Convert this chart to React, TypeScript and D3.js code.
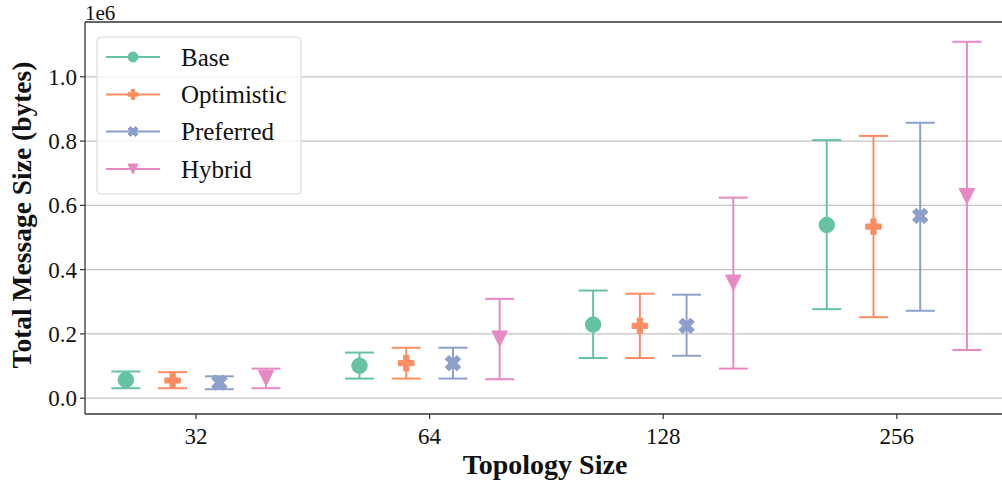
import React from "react";
import * as d3 from "d3";

// Topology sizes on the x axis
const categories = ["32", "64", "128", "256"];
const seriesNames = ["Base", "Optimistic", "Preferred", "Hybrid"];
const seriesColors = ["#66c2a5", "#fc8d62", "#8da0cb", "#e78ac3"];
const seriesMarkers = ["circle", "plus", "x", "tri_down"];

// Mean total message size (bytes) and error-bar extents per topology size
const baseMean = [57000, 101000, 229000, 539000];
const baseLow = [31000, 61000, 125000, 277000];
const baseHigh = [83000, 142000, 335000, 803000];

const optimisticMean = [55000, 109000, 225000, 534000];
const optimisticLow = [31000, 61000, 125000, 252000];
const optimisticHigh = [81000, 157000, 325000, 816000];

const preferredMean = [48500, 109000, 225000, 567000];
const preferredLow = [28000, 61000, 132000, 272000];
const preferredHigh = [68000, 157000, 322000, 857000];

const hybridMean = [62600, 185000, 359000, 628000];
const hybridLow = [31000, 59000, 92000, 150000];
const hybridHigh = [92000, 309000, 624000, 1109000];

const yTicks = [0, 200000, 400000, 600000, 800000, 1000000];

const means = [baseMean, optimisticMean, preferredMean, hybridMean];
const lows = [baseLow, optimisticLow, preferredLow, hybridLow];
const highs = [baseHigh, optimisticHigh, preferredHigh, hybridHigh];

const W = 1002;
const H = 486;
const plot = { left: 85, right: 1005, top: 22, bottom: 414 };
const FONT = "'Liberation Serif', 'Times New Roman', serif";

function markerPath(kind: string, s: number): string {
  const h = s / 2;
  if (kind === "circle") {
    return `M${-h},0A${h},${h} 0 1,0 ${h},0A${h},${h} 0 1,0 ${-h},0Z`;
  }
  if (kind === "plus") {
    const pts = [
      [-1, -3], [-1, -1], [-3, -1], [-3, 1], [-1, 1], [-1, 3],
      [1, 3], [1, 1], [3, 1], [3, -1], [1, -1], [1, -3],
    ].map(([a, b]) => [(a / 6) * s, (b / 6) * s]);
    return "M" + pts.map((p) => p.join(",")).join("L") + "Z";
  }
  if (kind === "x") {
    const pts = [
      [-1, -2], [0, -1], [1, -2], [2, -1], [1, 0], [2, 1],
      [1, 2], [0, 1], [-1, 2], [-2, 1], [-1, 0], [-2, -1],
    ].map(([a, b]) => [(a / 4) * s, (b / 4) * s]);
    return "M" + pts.map((p) => p.join(",")).join("L") + "Z";
  }
  // downward-pointing triangle
  return `M0,${h}L${-h},${-h}L${h},${-h}Z`;
}

export default function App() {
  const x = d3
    .scaleLinear()
    .domain([-0.475, 3.463])
    .range([plot.left, plot.right]);
  const y = d3
    .scaleLinear()
    .domain([-49200, 1170500])
    .range([plot.bottom, plot.top]);

  const dodge = (j: number) => (j - 1.5) * 0.2;
  const capHalf = 14.5;
  const markerSize = 15.5;

  const legend = { x: 97, y: 37, w: 204, h: 157 };
  const legendRows = [57, 94.5, 131.5, 169];

  return (
    <svg
      width={W}
      height={H}
      style={{ position: "absolute", left: 0, top: 0, background: "#fff" }}
      fontFamily={FONT}
    >
      <rect x={0} y={0} width={W} height={H} fill="#fff" />
      {/* horizontal grid */}
      {yTicks.map((t) => (
        <line
          key={"g" + t}
          x1={plot.left}
          x2={plot.right}
          y1={y(t)}
          y2={y(t)}
          stroke="#c4c4c4"
          strokeWidth={1.3}
        />
      ))}

      {/* error bars and markers */}
      {seriesNames.map((name, j) => (
        <g key={name}>
          {categories.map((c, i) => {
            const cx = x(i + dodge(j));
            const col = seriesColors[j];
            return (
              <g key={c}>
                <line x1={cx} x2={cx} y1={y(lows[j][i])} y2={y(highs[j][i])} stroke={col} strokeWidth={2} />
                <line x1={cx - capHalf} x2={cx + capHalf} y1={y(lows[j][i])} y2={y(lows[j][i])} stroke={col} strokeWidth={2} />
                <line x1={cx - capHalf} x2={cx + capHalf} y1={y(highs[j][i])} y2={y(highs[j][i])} stroke={col} strokeWidth={2} />
                <path
                  d={markerPath(seriesMarkers[j], markerSize)}
                  transform={`translate(${cx},${y(means[j][i])})`}
                  fill={col}
                  stroke={col}
                  strokeWidth={1}
                />
              </g>
            );
          })}
        </g>
      ))}

      {/* spines */}
      <line x1={plot.left} x2={plot.left} y1={plot.top} y2={plot.bottom} stroke="#333" strokeWidth={1.3} />
      <line x1={plot.left} x2={plot.right} y1={plot.bottom} y2={plot.bottom} stroke="#333" strokeWidth={1.3} />
      <line x1={plot.left} x2={plot.right} y1={plot.top} y2={plot.top} stroke="#333" strokeWidth={1.3} />
      <line x1={plot.right} x2={plot.right} y1={plot.top} y2={plot.bottom} stroke="#333" strokeWidth={1.3} />

      {/* y ticks */}
      {yTicks.map((t) => (
        <g key={"yt" + t}>
          <line x1={plot.left - 5} x2={plot.left} y1={y(t)} y2={y(t)} stroke="#333" strokeWidth={1.2} />
          <text x={plot.left - 8} y={y(t)} dy="0.35em" textAnchor="end" fontSize={23} fill="#111">
            {d3.format(".1f")(t / 1e6)}
          </text>
        </g>
      ))}
      <text x={plot.left} y={19.5} fontSize={21} fill="#111">1e6</text>

      {/* x ticks */}
      {categories.map((c, i) => (
        <g key={"xt" + c}>
          <line x1={x(i)} x2={x(i)} y1={plot.bottom} y2={plot.bottom + 5} stroke="#333" strokeWidth={1.2} />
          <text x={x(i)} y={plot.bottom + 30} textAnchor="middle" fontSize={23} fill="#111">
            {c}
          </text>
        </g>
      ))}

      {/* axis titles */}
      <text
        x={(plot.left + plot.right) / 2}
        y={474}
        textAnchor="middle"
        fontSize={28}
        fontWeight="bold"
        fill="#111"
      >
        Topology Size
      </text>
      <text
        transform={`translate(31,215) rotate(-90)`}
        textAnchor="middle"
        fontSize={27.5}
        fontWeight="bold"
        fill="#111"
      >
        Total Message Size (bytes)
      </text>

      {/* legend */}
      <rect
        x={legend.x}
        y={legend.y}
        width={legend.w}
        height={legend.h}
        rx={4}
        fill="#fff"
        fillOpacity={0.8}
        stroke="#d6d6d6"
        strokeWidth={1}
      />
      {seriesNames.map((name, j) => (
        <g key={"lg" + name}>
          <line x1={106} x2={160} y1={legendRows[j]} y2={legendRows[j]} stroke={seriesColors[j]} strokeWidth={2} />
          <path
            d={markerPath(seriesMarkers[j], 10)}
            transform={`translate(133,${legendRows[j]})`}
            fill={seriesColors[j]}
            stroke={seriesColors[j]}
            strokeWidth={1}
          />
          <text x={181} y={legendRows[j]} dy="0.35em" fontSize={25} fill="#111">
            {name}
          </text>
        </g>
      ))}
    </svg>
  );
}
